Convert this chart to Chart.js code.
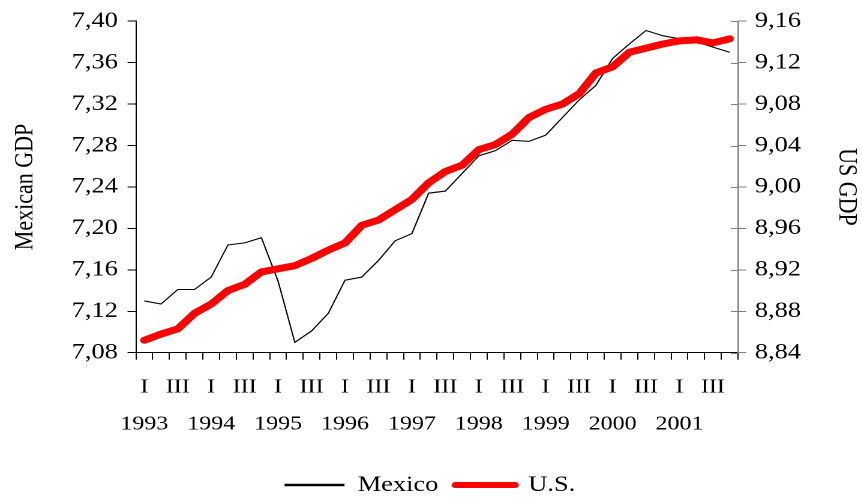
<!DOCTYPE html>
<html><head><meta charset="utf-8">
<script src="https://cdn.jsdelivr.net/npm/chart.js@4.4.0/dist/chart.umd.min.js"></script>
<style>
html,body{margin:0;padding:0;background:#fff;overflow:hidden;}
#wrap{width:718px;height:500px;transform:scaleX(1.2);transform-origin:0 0;}
canvas{display:block;}
</style></head><body>
<div id="wrap"><canvas id="c" width="718" height="500" style="width:718px;height:500px"></canvas></div>
<script>
const years = [1993, 1994, 1995, 1996, 1997, 1998, 1999, 2000, 2001];
const quarters = ['I', 'II', 'III', 'IV'];
const shownQuarters = ['I', 'III'];
const mexico = [7.130, 7.127, 7.141, 7.141, 7.153, 7.184, 7.186, 7.191, 7.149,
  7.090, 7.101, 7.118, 7.150, 7.153, 7.169, 7.188, 7.195, 7.234, 7.236, 7.253,
  7.270, 7.275, 7.285, 7.284, 7.290, 7.307, 7.324, 7.338, 7.364, 7.378, 7.391,
  7.386, 7.383, 7.380, 7.375, 7.370];
const us = [8.852, 8.858, 8.863, 8.878, 8.887, 8.900, 8.906, 8.918, 8.921,
  8.924, 8.931, 8.939, 8.946, 8.963, 8.968, 8.978, 8.988, 9.004, 9.015, 9.021,
  9.036, 9.041, 9.051, 9.067, 9.075, 9.080, 9.090, 9.110, 9.116, 9.130, 9.134,
  9.138, 9.141, 9.142, 9.139, 9.143];
const mexicoTicks = [7.08, 7.12, 7.16, 7.20, 7.24, 7.28, 7.32, 7.36, 7.40];
const usTicks = [8.84, 8.88, 8.92, 8.96, 9.00, 9.04, 9.08, 9.12, 9.16];

const categories = [];
years.forEach(y => quarters.forEach(q => categories.push([q, String(y)])));

const FONT = "'Liberation Serif', 'Times New Roman', serif";
const fmt = v => Number(v).toFixed(2).replace('.', ',');

// right axis tick marks cross the axis line (inner half)
const innerTicks = {
  id: 'innerTicks',
  afterDraw(chart) {
    const s = chart.scales.y1, ctx = chart.ctx;
    ctx.save();
    ctx.strokeStyle = '#808080';
    ctx.lineWidth = 1;
    s.ticks.forEach(t => {
      const py = Math.round(s.getPixelForValue(t.value)) + 0.5;
      ctx.beginPath();
      ctx.moveTo(s.left - 6, py);
      ctx.lineTo(s.left, py);
      ctx.stroke();
    });
    ctx.restore();
  }
};

new Chart(document.getElementById('c'), {
  type: 'line',
  data: {
    labels: categories,
    datasets: [
      { label: 'Mexico', data: mexico, yAxisID: 'y', borderColor: '#000000', backgroundColor: '#000000',
        borderWidth: 1.1, pointRadius: 0, tension: 0, order: 1 },
      { label: 'U.S.', data: us, yAxisID: 'y1', borderColor: '#ff0000', backgroundColor: '#ff0000',
        borderWidth: 7, pointRadius: 0, tension: 0, borderJoinStyle: 'round', borderCapStyle: 'round', order: 0 }
    ]
  },
  plugins: [innerTicks],
  options: {
    responsive: false,
    animation: false,
    devicePixelRatio: 2,
    layout: { padding: { top: 17.3, left: 0, right: 1.5, bottom: -6 } },
    plugins: {
      tooltip: { enabled: false },
      legend: {
        position: 'bottom',
        labels: {
          usePointStyle: true,
          pointStyleWidth: 50,
          padding: 14,
          color: '#000',
          font: { family: FONT, size: 22 },
          generateLabels: chart => chart.data.datasets.map((ds, i) => ({
            text: ds.label, fillStyle: ds.borderColor, strokeStyle: ds.borderColor,
            lineWidth: i === 0 ? 2.5 : 6, lineCap: i === 0 ? 'butt' : 'round',
            pointStyle: 'line', datasetIndex: i, hidden: false, fontColor: '#000'
          }))
        }
      }
    },
    scales: {
      x: {
        type: 'category',
        offset: true,
        grid: { offset: true, drawOnChartArea: false, tickLength: 7, color: '#000' },
        border: { color: '#000', width: 1 },
        ticks: {
          autoSkip: false, maxRotation: 0, minRotation: 0, padding: 9, color: '#000',
          font: { family: FONT, size: 20, lineHeight: 1.85 },
          callback: (val, idx) => {
            const [q, y] = categories[idx];
            if (!shownQuarters.includes(q)) return ['', ''];
            return q === 'I' ? [q, y] : [q, ''];
          }
        },
        afterFit: s => { s.height = 107.3; }
      },
      y: {
        position: 'left',
        min: 7.08, max: 7.40,
        afterBuildTicks: s => { s.ticks = mexicoTicks.map(v => ({ value: v })); },
        grid: { drawOnChartArea: false, tickLength: 7, color: '#000' },
        border: { color: '#000', width: 1 },
        ticks: { padding: 8, color: '#000', font: { family: FONT, size: 22 }, callback: v => fmt(v) },
        title: { display: true, text: 'Mexican GDP', color: '#000', padding: { top: 10, bottom: 0 },
          font: { family: FONT, size: 22, lineHeight: 1 } },
        afterFit: s => { s.width = 113.3; }
      },
      y1: {
        position: 'right',
        min: 8.84, max: 9.16,
        afterBuildTicks: s => { s.ticks = usTicks.map(v => ({ value: v })); },
        grid: { drawOnChartArea: false, tickLength: 7, color: '#808080' },
        border: { color: '#808080', width: 1.3 },
        ticks: { padding: 7, color: '#000', font: { family: FONT, size: 22 }, callback: v => fmt(v) },
        title: { display: true, text: 'US GDP', color: '#000', padding: { top: 0, bottom: 0 },
          font: { family: FONT, size: 22, lineHeight: 1 } },
        afterFit: s => { s.width = 101.5; }
      }
    }
  }
});
</script>
</body></html>
